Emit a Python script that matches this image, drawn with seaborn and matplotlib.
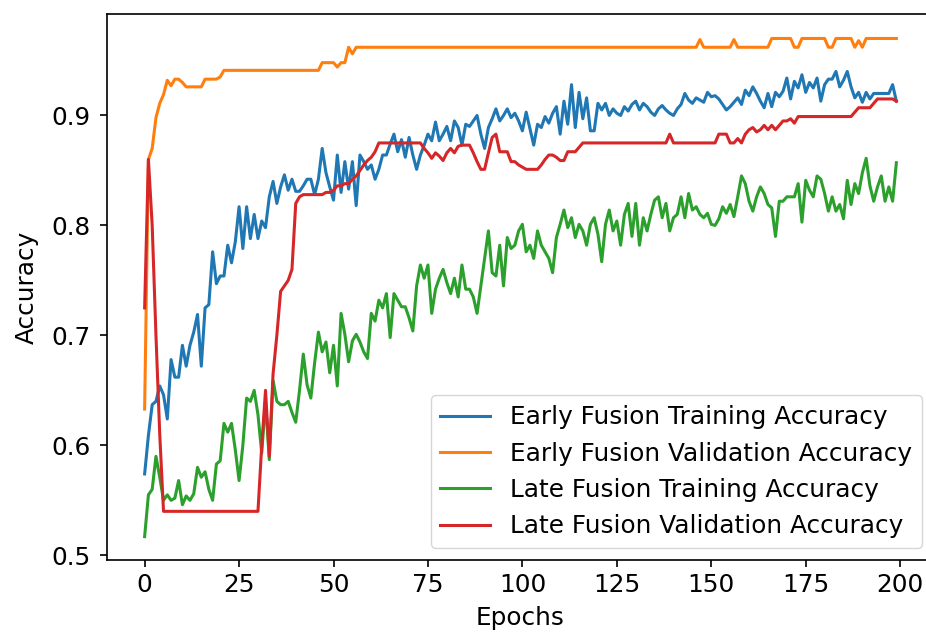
import pandas as pd
import matplotlib
matplotlib.use('Agg')
import matplotlib.pyplot as plt
import seaborn as sns

# accuracy per epoch
early_train = [
    0.574, 0.609, 0.637, 0.640, 0.654, 0.646, 0.624, 0.678, 0.662, 0.662,
    0.691, 0.672, 0.691, 0.703, 0.719, 0.672, 0.725, 0.728, 0.776, 0.747,
    0.754, 0.754, 0.782, 0.766, 0.785, 0.817, 0.779, 0.817, 0.788, 0.810,
    0.788, 0.804, 0.798, 0.826, 0.840, 0.820, 0.835, 0.846, 0.832, 0.842,
    0.831, 0.831, 0.836, 0.842, 0.842, 0.828, 0.842, 0.870, 0.848, 0.835,
    0.823, 0.864, 0.830, 0.858, 0.833, 0.858, 0.818, 0.864, 0.858, 0.851,
    0.855, 0.842, 0.851, 0.864, 0.864, 0.874, 0.883, 0.867, 0.878, 0.862,
    0.880, 0.864, 0.851, 0.864, 0.873, 0.883, 0.877, 0.894, 0.877, 0.883,
    0.890, 0.877, 0.895, 0.889, 0.873, 0.892, 0.890, 0.895, 0.900, 0.883,
    0.870, 0.889, 0.897, 0.906, 0.895, 0.900, 0.906, 0.898, 0.902, 0.895,
    0.886, 0.903, 0.888, 0.873, 0.892, 0.889, 0.899, 0.893, 0.902, 0.908,
    0.883, 0.913, 0.892, 0.928, 0.889, 0.921, 0.897, 0.916, 0.886, 0.886,
    0.911, 0.905, 0.911, 0.900, 0.906, 0.902, 0.900, 0.908, 0.904, 0.910,
    0.913, 0.905, 0.911, 0.908, 0.903, 0.900, 0.906, 0.909, 0.905, 0.902,
    0.900, 0.906, 0.910, 0.920, 0.914, 0.911, 0.916, 0.914, 0.912, 0.921,
    0.917, 0.918, 0.915, 0.910, 0.905, 0.908, 0.912, 0.916, 0.910, 0.923,
    0.918, 0.926, 0.920, 0.913, 0.907, 0.920, 0.908, 0.921, 0.917, 0.922,
    0.934, 0.915, 0.931, 0.925, 0.937, 0.921, 0.930, 0.925, 0.934, 0.913,
    0.928, 0.933, 0.933, 0.940, 0.926, 0.932, 0.940, 0.926, 0.916, 0.921,
    0.912, 0.921, 0.915, 0.920, 0.920, 0.920, 0.920, 0.920, 0.928, 0.913,
]

early_val = [
    0.633, 0.860, 0.870, 0.898, 0.911, 0.919, 0.932, 0.927, 0.933, 0.933,
    0.930, 0.926, 0.926, 0.926, 0.926, 0.926, 0.933, 0.933, 0.933, 0.933,
    0.935, 0.941, 0.941, 0.941, 0.941, 0.941, 0.941, 0.941, 0.941, 0.941,
    0.941, 0.941, 0.941, 0.941, 0.941, 0.941, 0.941, 0.941, 0.941, 0.941,
    0.941, 0.941, 0.941, 0.941, 0.941, 0.941, 0.941, 0.948, 0.948, 0.948,
    0.948, 0.944, 0.948, 0.948, 0.962, 0.956, 0.962, 0.962, 0.962, 0.962,
    0.962, 0.962, 0.962, 0.962, 0.962, 0.962, 0.962, 0.962, 0.962, 0.962,
    0.962, 0.962, 0.962, 0.962, 0.962, 0.962, 0.962, 0.962, 0.962, 0.962,
    0.962, 0.962, 0.962, 0.962, 0.962, 0.962, 0.962, 0.962, 0.962, 0.962,
    0.962, 0.962, 0.962, 0.962, 0.962, 0.962, 0.962, 0.962, 0.962, 0.962,
    0.962, 0.962, 0.962, 0.962, 0.962, 0.962, 0.962, 0.962, 0.962, 0.962,
    0.962, 0.962, 0.962, 0.962, 0.962, 0.962, 0.962, 0.962, 0.962, 0.962,
    0.962, 0.962, 0.962, 0.962, 0.962, 0.962, 0.962, 0.962, 0.962, 0.962,
    0.962, 0.962, 0.962, 0.962, 0.962, 0.962, 0.962, 0.962, 0.962, 0.962,
    0.962, 0.962, 0.962, 0.962, 0.962, 0.962, 0.962, 0.969, 0.962, 0.962,
    0.962, 0.962, 0.962, 0.962, 0.962, 0.962, 0.969, 0.962, 0.962, 0.962,
    0.962, 0.962, 0.962, 0.962, 0.962, 0.962, 0.970, 0.970, 0.970, 0.970,
    0.970, 0.970, 0.962, 0.962, 0.970, 0.970, 0.970, 0.970, 0.970, 0.970,
    0.970, 0.962, 0.962, 0.970, 0.970, 0.970, 0.970, 0.970, 0.962, 0.968,
    0.962, 0.970, 0.970, 0.970, 0.970, 0.970, 0.970, 0.970, 0.970, 0.970,
]

late_train = [
    0.517, 0.555, 0.560, 0.590, 0.571, 0.550, 0.555, 0.550, 0.552, 0.568,
    0.546, 0.554, 0.550, 0.556, 0.580, 0.571, 0.576, 0.560, 0.550, 0.583,
    0.586, 0.620, 0.612, 0.620, 0.596, 0.568, 0.600, 0.643, 0.640, 0.650,
    0.628, 0.593, 0.640, 0.587, 0.659, 0.640, 0.637, 0.637, 0.640, 0.630,
    0.621, 0.650, 0.683, 0.655, 0.643, 0.675, 0.703, 0.685, 0.694, 0.666,
    0.691, 0.654, 0.720, 0.701, 0.676, 0.695, 0.701, 0.694, 0.685, 0.679,
    0.720, 0.713, 0.732, 0.725, 0.738, 0.698, 0.738, 0.732, 0.726, 0.726,
    0.716, 0.704, 0.745, 0.764, 0.752, 0.764, 0.720, 0.742, 0.752, 0.760,
    0.748, 0.738, 0.752, 0.735, 0.764, 0.742, 0.742, 0.735, 0.720, 0.745,
    0.770, 0.795, 0.757, 0.754, 0.782, 0.745, 0.789, 0.779, 0.782, 0.795,
    0.801, 0.776, 0.782, 0.770, 0.795, 0.782, 0.776, 0.770, 0.757, 0.789,
    0.801, 0.814, 0.798, 0.807, 0.789, 0.801, 0.795, 0.782, 0.801, 0.807,
    0.792, 0.767, 0.801, 0.814, 0.795, 0.804, 0.782, 0.810, 0.820, 0.790,
    0.820, 0.782, 0.807, 0.795, 0.810, 0.823, 0.826, 0.807, 0.820, 0.795,
    0.807, 0.810, 0.826, 0.807, 0.829, 0.814, 0.817, 0.810, 0.807, 0.811,
    0.801, 0.800, 0.806, 0.817, 0.811, 0.819, 0.808, 0.826, 0.845, 0.838,
    0.822, 0.813, 0.826, 0.835, 0.829, 0.819, 0.816, 0.790, 0.822, 0.822,
    0.826, 0.826, 0.826, 0.838, 0.803, 0.841, 0.832, 0.826, 0.845, 0.842,
    0.829, 0.813, 0.826, 0.813, 0.819, 0.806, 0.841, 0.819, 0.838, 0.829,
    0.848, 0.861, 0.836, 0.822, 0.835, 0.845, 0.822, 0.835, 0.822, 0.857,
]

late_val = [
    0.725, 0.860, 0.800, 0.700, 0.610, 0.540, 0.540, 0.540, 0.540, 0.540,
    0.540, 0.540, 0.540, 0.540, 0.540, 0.540, 0.540, 0.540, 0.540, 0.540,
    0.540, 0.540, 0.540, 0.540, 0.540, 0.540, 0.540, 0.540, 0.540, 0.540,
    0.540, 0.600, 0.650, 0.590, 0.665, 0.700, 0.740, 0.745, 0.750, 0.760,
    0.820, 0.826, 0.828, 0.828, 0.828, 0.828, 0.828, 0.828, 0.830, 0.830,
    0.832, 0.836, 0.836, 0.838, 0.838, 0.842, 0.845, 0.850, 0.855, 0.859,
    0.862, 0.867, 0.875, 0.875, 0.875, 0.875, 0.875, 0.875, 0.875, 0.875,
    0.875, 0.875, 0.875, 0.875, 0.870, 0.866, 0.861, 0.866, 0.863, 0.859,
    0.866, 0.870, 0.866, 0.872, 0.873, 0.873, 0.873, 0.866, 0.858, 0.851,
    0.851, 0.866, 0.880, 0.883, 0.867, 0.867, 0.867, 0.858, 0.858, 0.855,
    0.853, 0.851, 0.851, 0.851, 0.851, 0.855, 0.860, 0.864, 0.864, 0.862,
    0.859, 0.859, 0.867, 0.867, 0.867, 0.871, 0.875, 0.875, 0.875, 0.875,
    0.875, 0.875, 0.875, 0.875, 0.875, 0.875, 0.875, 0.875, 0.875, 0.875,
    0.875, 0.875, 0.875, 0.875, 0.875, 0.875, 0.875, 0.875, 0.875, 0.883,
    0.875, 0.875, 0.875, 0.875, 0.875, 0.875, 0.875, 0.875, 0.875, 0.875,
    0.875, 0.875, 0.883, 0.883, 0.883, 0.875, 0.875, 0.879, 0.875, 0.883,
    0.887, 0.889, 0.885, 0.887, 0.891, 0.887, 0.891, 0.887, 0.891, 0.895,
    0.895, 0.897, 0.893, 0.899, 0.899, 0.899, 0.899, 0.899, 0.899, 0.899,
    0.899, 0.899, 0.899, 0.899, 0.899, 0.899, 0.899, 0.899, 0.903, 0.907,
    0.907, 0.907, 0.907, 0.911, 0.915, 0.915, 0.915, 0.915, 0.915, 0.913,
]

series_names = [
    'Early Fusion Training Accuracy',
    'Early Fusion Validation Accuracy',
    'Late Fusion Training Accuracy',
    'Late Fusion Validation Accuracy',
]
colors = ['#1f77b4', '#ff7f0e', '#2ca02c', '#d62728']

# long-form table for seaborn
frames = []
for name, vals in zip(series_names, [early_train, early_val, late_train, late_val]):
    frames.append(pd.DataFrame({'Epochs': range(len(vals)), 'Accuracy': vals, 'series': name}))
df = pd.concat(frames, ignore_index=True)

plt.rcParams['font.family'] = 'DejaVu Sans'
plt.rcParams['font.size'] = 17.8
plt.rcParams['axes.linewidth'] = 1.2
plt.rcParams['xtick.major.size'] = 5.2
plt.rcParams['ytick.major.size'] = 5.2
plt.rcParams['xtick.major.width'] = 1.2
plt.rcParams['ytick.major.width'] = 1.2
plt.rcParams['xtick.major.pad'] = 4
plt.rcParams['ytick.major.pad'] = 6.5

fig = plt.figure(figsize=(9.26, 6.37), dpi=100)
# axes runs slightly past the right edge, as in the cropped reference
ax = fig.add_axes([0.1156, 0.1201, 0.893, 0.8587])

sns.lineplot(data=df, x='Epochs', y='Accuracy', hue='series', palette=colors,
             linewidth=2.2, ax=ax)

ax.set_xlabel('Epochs', labelpad=6)
ax.set_ylabel('Accuracy', labelpad=9)
ax.set_xticks([0, 25, 50, 75, 100, 125, 150, 175, 200])
ax.set_yticks([0.5, 0.6, 0.7, 0.8, 0.9])
ax.set_xlim(-9.95, 208.95)
ax.set_ylim(0.4953, 0.9927)
ax.legend(title=None, loc='lower right')

fig.savefig('out.png', dpi=100)
